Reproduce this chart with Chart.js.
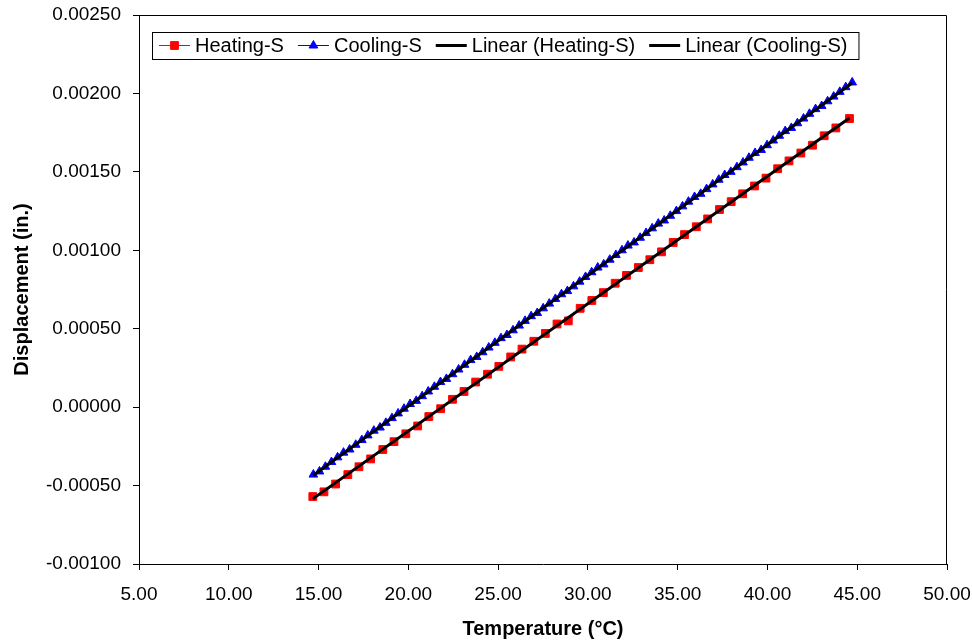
<!DOCTYPE html>
<html lang="en">
<head>
    <meta charset="UTF-8">
    <title>Displacement vs Temperature</title>
    <script src="https://cdn.jsdelivr.net/npm/chart.js"></script>
    <style>
        body { margin: 0; background: #fff; }
        #chart { display: block; }
    </style>
</head>
<body>
<canvas id="chart" width="972" height="641"></canvas>

<script>
    // Heating-S readings (temperature in °C, displacement in inches)
    const heatTemp = [14.68, 15.30, 15.95, 16.63, 17.25, 17.90, 18.58, 19.20, 19.86, 20.52,
        21.14, 21.80, 22.46, 23.10, 23.75, 24.41, 25.04, 25.70, 26.33, 26.99,
        27.63, 28.28, 28.91, 29.57, 30.22, 30.86, 31.52, 32.15, 32.81, 33.45,
        34.10, 34.75, 35.38, 36.04, 36.67, 37.33, 37.98, 38.62, 39.28, 39.92,
        40.57, 41.20, 41.86, 42.51, 43.16, 43.81, 44.57];
    const heatDisp = [-0.00057, -0.00054, -0.00049, -0.00043, -0.00038, -0.00033, -0.00027, -0.00022, -0.00017, -0.00012,
        -0.00006, -0.00001, 0.00005, 0.00010, 0.00016, 0.00021, 0.00026, 0.00032, 0.00037, 0.00042,
        0.00047, 0.00053, 0.00055, 0.00063, 0.00068, 0.00073, 0.00079, 0.00084, 0.00089, 0.00094,
        0.00099, 0.00105, 0.00110, 0.00115, 0.00120, 0.00126, 0.00131, 0.00136, 0.00141, 0.00146,
        0.00152, 0.00157, 0.00162, 0.00167, 0.00173, 0.00178, 0.00184];

    // Cooling-S readings
    const coolTemp = [14.71, 15.05, 15.38, 15.72, 16.06, 16.39, 16.73, 17.07, 17.41, 17.74,
        18.08, 18.42, 18.75, 19.09, 19.43, 19.76, 20.10, 20.44, 20.77, 21.11,
        21.45, 21.79, 22.12, 22.46, 22.80, 23.13, 23.47, 23.81, 24.14, 24.48,
        24.82, 25.16, 25.49, 25.83, 26.17, 26.50, 26.84, 27.18, 27.51, 27.85,
        28.19, 28.53, 28.86, 29.20, 29.54, 29.87, 30.21, 30.55, 30.88, 31.22,
        31.56, 31.90, 32.23, 32.57, 32.91, 33.24, 33.58, 33.92, 34.25, 34.59,
        34.93, 35.27, 35.60, 35.94, 36.28, 36.61, 36.95, 37.29, 37.62, 37.96,
        38.30, 38.64, 38.97, 39.31, 39.65, 39.98, 40.32, 40.66, 40.99, 41.33,
        41.67, 42.01, 42.34, 42.68, 43.02, 43.35, 43.69, 44.03, 44.36, 44.72];
    const coolDisp = [-0.00043, -0.00041, -0.00038, -0.00035, -0.00032, -0.00029, -0.00027, -0.00024, -0.00021, -0.00018,
        -0.00015, -0.00013, -0.00010, -0.00007, -0.00004, -0.00001, 0.00002, 0.00004, 0.00007, 0.00010,
        0.00013, 0.00016, 0.00018, 0.00021, 0.00024, 0.00027, 0.00030, 0.00032, 0.00035, 0.00038,
        0.00041, 0.00044, 0.00046, 0.00049, 0.00052, 0.00055, 0.00058, 0.00060, 0.00063, 0.00066,
        0.00069, 0.00072, 0.00074, 0.00077, 0.00080, 0.00083, 0.00086, 0.00089, 0.00091, 0.00094,
        0.00097, 0.00100, 0.00103, 0.00105, 0.00108, 0.00111, 0.00114, 0.00117, 0.00119, 0.00122,
        0.00125, 0.00128, 0.00131, 0.00134, 0.00136, 0.00139, 0.00142, 0.00145, 0.00148, 0.00150,
        0.00153, 0.00156, 0.00159, 0.00162, 0.00164, 0.00167, 0.00170, 0.00173, 0.00176, 0.00178,
        0.00181, 0.00184, 0.00187, 0.00190, 0.00192, 0.00195, 0.00198, 0.00201, 0.00204, 0.00207];

    const seriesNames = ['Heating-S', 'Cooling-S', 'Linear (Heating-S)', 'Linear (Cooling-S)'];

    const xTicks = {min: 5, max: 50, step: 5};
    const yTicks = {min: -0.001, max: 0.0025, step: 0.0005};

    function toPoints(xs, ys) {
        return xs.map((x, i) => ({x: x, y: ys[i]}));
    }

    // least squares trendline, drawn over the data range (like Excel)
    function trend(xs, ys) {
        const n = xs.length;
        let sx = 0, sy = 0, sxx = 0, sxy = 0;
        for (let i = 0; i < n; i++) {
            sx += xs[i]; sy += ys[i]; sxx += xs[i] * xs[i]; sxy += xs[i] * ys[i];
        }
        const m = (n * sxy - sx * sy) / (n * sxx - sx * sx);
        const b = (sy - m * sx) / n;
        const lo = Math.min(...xs), hi = Math.max(...xs);
        return [{x: lo, y: m * lo + b}, {x: hi, y: m * hi + b}];
    }

    const FONT = '"Liberation Sans", Arial, sans-serif';

    // frame on top/right + legend box inside the plot area
    const excelLegend = {
        id: 'excelLegend',
        afterDraw(chart) {
            const ctx = chart.ctx;
            const a = chart.chartArea;
            ctx.save();
            ctx.strokeStyle = '#000';
            ctx.lineWidth = 1;
            ctx.beginPath();
            ctx.moveTo(Math.round(a.left) + 0.5, Math.round(a.top) + 0.5);
            ctx.lineTo(Math.round(a.right) - 0.5, Math.round(a.top) + 0.5);
            ctx.lineTo(Math.round(a.right) - 0.5, Math.round(a.bottom));
            ctx.stroke();

            ctx.font = '20px ' + FONT;
            ctx.textBaseline = 'middle';
            const boxLeft = 152, boxTop = 32, boxH = 27, cy = boxTop + boxH / 2;
            const sample = 31, gapText = 5, gapItem = 14;
            let x = boxLeft + 7;
            const items = chart.data.datasets.map(ds => {
                const w = ctx.measureText(ds.label).width;
                const it = {ds: ds, x: x, w: w};
                x += sample + gapText + w + gapItem;
                return it;
            });
            const boxRight = x - gapItem + 11;
            ctx.fillStyle = '#fff';
            ctx.fillRect(boxLeft, boxTop, boxRight - boxLeft, boxH);
            ctx.strokeRect(boxLeft + 0.5, boxTop + 0.5, boxRight - boxLeft, boxH);

            items.forEach(it => {
                const ds = it.ds;
                ctx.strokeStyle = ds.borderColor;
                ctx.lineWidth = ds.borderWidth;
                ctx.beginPath();
                ctx.moveTo(it.x, cy);
                ctx.lineTo(it.x + sample, cy);
                ctx.stroke();
                if (ds.pointRadius > 0) {
                    ctx.fillStyle = ds.pointBackgroundColor;
                    ctx.strokeStyle = ds.pointBorderColor;
                    ctx.lineWidth = 1;
                    Chart.helpers.drawPoint(ctx, {pointStyle: ds.pointStyle, radius: ds.pointRadius, borderWidth: 1, rotation: 0},
                        it.x + sample / 2, cy);
                }
                ctx.fillStyle = '#000';
                ctx.fillText(ds.label, it.x + sample + gapText, cy + 1);
            });
            ctx.restore();
        }
    };

    new Chart(document.getElementById('chart'), {
        type: 'scatter',
        data: {
            datasets: [{
                label: seriesNames[0],
                data: toPoints(heatTemp, heatDisp),
                showLine: true,
                borderColor: '#ff0000',
                borderWidth: 1,
                pointStyle: 'rect',
                pointRadius: 5.5,
                pointBackgroundColor: '#ff0000',
                pointBorderColor: '#ff0000',
                pointBorderWidth: 1,
                order: 3
            }, {
                label: seriesNames[1],
                data: toPoints(coolTemp, coolDisp),
                showLine: true,
                borderColor: '#0000ff',
                borderWidth: 1,
                pointStyle: 'triangle',
                pointRadius: 5,
                pointBackgroundColor: '#0000ff',
                pointBorderColor: '#0000ff',
                pointBorderWidth: 1,
                order: 2
            }, {
                label: seriesNames[2],
                data: trend(heatTemp, heatDisp),
                showLine: true,
                borderColor: '#000000',
                borderWidth: 3,
                pointRadius: 0,
                order: 1
            }, {
                label: seriesNames[3],
                data: trend(coolTemp, coolDisp),
                showLine: true,
                borderColor: '#000000',
                borderWidth: 3,
                pointRadius: 0,
                order: 0
            }]
        },
        options: {
            responsive: false,
            animation: false,
            layout: {padding: {top: 15, right: 25, bottom: 0, left: 0}},
            plugins: {
                legend: {display: false},
                tooltip: {enabled: false}
            },
            scales: {
                x: {
                    type: 'linear',
                    min: xTicks.min,
                    max: xTicks.max,
                    afterFit: s => { s.height = 77; s.paddingLeft = 0; s.paddingRight = 0; },
                    ticks: {
                        stepSize: xTicks.step,
                        color: '#000',
                        padding: 13,
                        font: {family: FONT, size: 19},
                        callback: v => v.toFixed(2)
                    },
                    grid: {drawOnChartArea: false, drawTicks: true, tickLength: 6, color: '#000'},
                    border: {display: true, color: '#000'},
                    title: {
                        display: true,
                        text: 'Temperature (°C)',
                        color: '#000',
                        font: {family: FONT, size: 20, weight: 'bold'},
                        padding: {top: 0, bottom: 0}
                    }
                },
                y: {
                    type: 'linear',
                    min: yTicks.min,
                    max: yTicks.max,
                    afterFit: s => { s.width = 139; s.paddingTop = 0; s.paddingBottom = 0; },
                    ticks: {
                        stepSize: yTicks.step,
                        color: '#000',
                        padding: 12,
                        font: {family: FONT, size: 19},
                        callback: v => (Math.abs(v) < 1e-12 ? 0 : v).toFixed(5)
                    },
                    grid: {drawOnChartArea: false, drawTicks: true, tickLength: 6, color: '#000'},
                    border: {display: true, color: '#000'},
                    title: {
                        display: true,
                        text: 'Displacement (in.)',
                        color: '#000',
                        font: {family: FONT, size: 20, weight: 'bold'},
                        padding: {top: 10, bottom: 0}
                    }
                }
            }
        },
        plugins: [excelLegend]
    });
</script>
</body>
</html>
